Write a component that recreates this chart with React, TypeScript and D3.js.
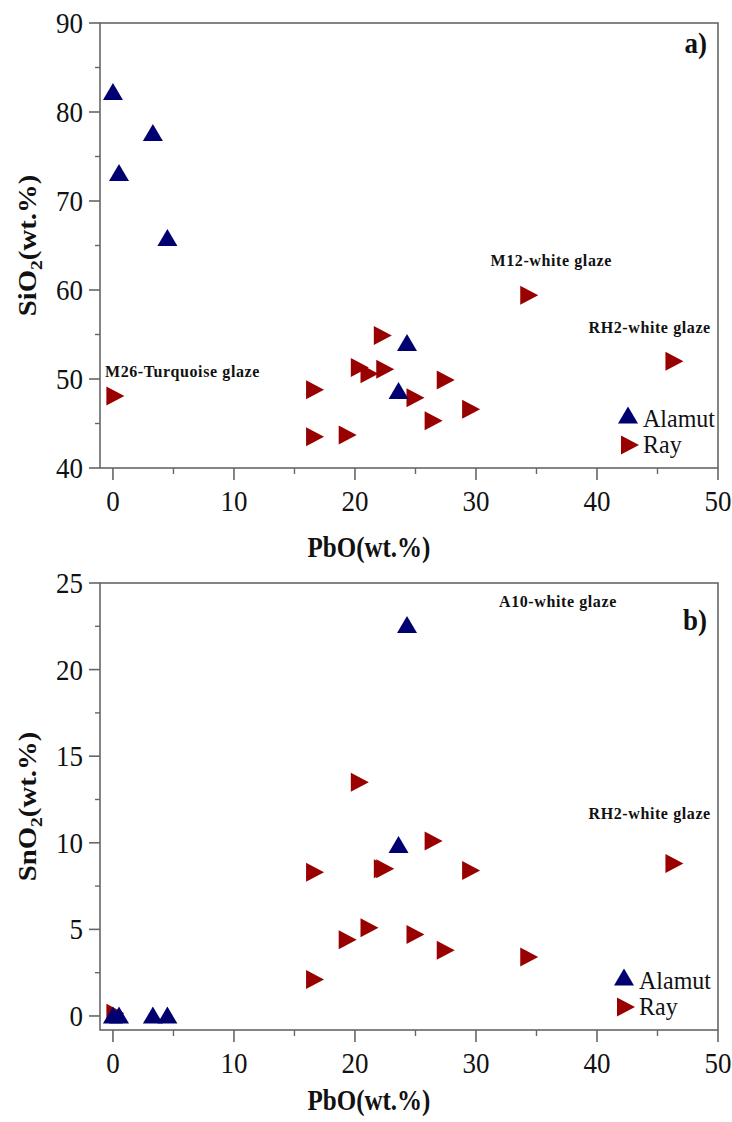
import React from 'react';
import * as d3 from 'd3';

// values (wt.%)
const alamutPbO = [0, 3.3, 0.5, 4.5, 24.3, 23.6];
const alamutSiO2 = [82.3, 77.7, 73.2, 65.9, 54.1, 48.7];
const alamutSnO2 = [0.05, 0.05, 0.05, 0.05, 22.6, 9.9];

const rayPbO = [0.2, 16.7, 16.7, 19.4, 20.4, 21.2, 22.3, 22.5, 25.0, 26.5, 27.5, 29.6, 34.4, 46.4];
const raySiO2 = [48.1, 48.8, 43.5, 43.7, 51.3, 50.6, 54.9, 51.1, 47.9, 45.3, 49.9, 46.6, 59.4, 52.0];
const raySnO2 = [0.15, 8.3, 2.1, 4.4, 13.5, 5.1, 8.5, 8.5, 4.7, 10.1, 3.8, 8.4, 3.4, 8.8];

const xTicks = [0, 10, 20, 30, 40, 50];
const xMinor = [5, 15, 25, 35, 45];
const siTicks = [40, 50, 60, 70, 80, 90];
const siMinor = [45, 55, 65, 75, 85];
const snTicks = [0, 5, 10, 15, 20, 25];
const snMinor = [2.5, 7.5, 12.5, 17.5, 22.5];

// annotation labels, anchored in data units
const notesA = [
    {label: 'M12-white glaze', x: 31.2, y: 62.7},
    {label: 'RH2-white glaze', x: 39.3, y: 55.2},
    {label: 'M26-Turquoise glaze', x: -0.66, y: 50.2},
];
const notesB = [
    {label: 'A10-white glaze', x: 31.9, y: 23.6},
    {label: 'RH2-white glaze', x: 39.3, y: 11.4},
];

const BLUE = '#000070';
const RED = '#990000';
const AXIS = '#666';
const FONT = '"Liberation Serif", "Times New Roman", serif';
const SY = 1.12; // the figure's text is a bit stretched vertically

const width = 732;
const height = 1122;
const left = 100;
const right = 718;

function upTri(w, h) {
    const p = d3.path();
    p.moveTo(0, -h / 2);
    p.lineTo(w / 2, h / 2);
    p.lineTo(-w / 2, h / 2);
    p.closePath();
    return p.toString();
}

function rightTri(w, h) {
    const p = d3.path();
    p.moveTo(w / 2, 0);
    p.lineTo(-w / 2, h / 2);
    p.lineTo(-w / 2, -h / 2);
    p.closePath();
    return p.toString();
}

const upPath = upTri(20, 17);
const rightPath = rightTri(18, 19);

const T = ({x, y, size, bold = false, anchor = 'start', sy = SY, ls = 0, children}) => (
    <text
        transform={`translate(${x},${y}) scale(1,${sy})`}
        fontSize={size}
        fontWeight={bold ? 'bold' : 'normal'}
        textAnchor={anchor}
        letterSpacing={ls}
        fill="#111"
    >
        {children}
    </text>
);

function Panel({top, bottom, yDomain, yTicks, yMinorTicks, alamutY, rayY, notes, tag, tagY, yTitle, xTitleY, legendX, legendY}) {
    const x = d3.scaleLinear().domain([-1.07, 50]).range([left, right]);
    const y = d3.scaleLinear().domain(yDomain).range([bottom, top]);
    const midY = (top + bottom) / 2;

    return <g>
        <rect x={left} y={top} width={right - left} height={bottom - top} fill="none" stroke={AXIS} strokeWidth={1.6}/>

        {yTicks.map(t => <g key={'y' + t}>
            <line x1={left - 11} x2={left} y1={y(t)} y2={y(t)} stroke={AXIS} strokeWidth={1.6}/>
            <T x={left - 17} y={y(t) + 10} size={27} anchor="end">{t}</T>
        </g>)}
        {yMinorTicks.map(t => <line key={'ym' + t} x1={left - 5} x2={left} y1={y(t)} y2={y(t)} stroke={AXIS} strokeWidth={1.4}/>)}

        {xTicks.map(t => <g key={'x' + t}>
            <line x1={x(t)} x2={x(t)} y1={bottom} y2={bottom + 12} stroke={AXIS} strokeWidth={1.6}/>
            <T x={x(t)} y={bottom + 43} size={27} anchor="middle">{t}</T>
        </g>)}
        {xMinor.map(t => <line key={'xm' + t} x1={x(t)} x2={x(t)} y1={bottom} y2={bottom + 6} stroke={AXIS} strokeWidth={1.4}/>)}

        <T x={369} y={xTitleY} size={25} bold anchor="middle" sy={1.15}>PbO(wt.%)</T>
        <text transform={`translate(36,${midY}) scale(1,1.15) rotate(-90)`} fontSize={25} fontWeight="bold" textAnchor="middle" fill="#111">
            {yTitle}<tspan fontSize={17} dy={6}>2</tspan><tspan dy={-6}>(wt.%)</tspan>
        </text>

        <T x={707} y={tagY} size={27} bold anchor="end">{tag}</T>

        {notes.map((n, i) => <T key={i} x={x(n.x)} y={y(n.y)} size={16} bold sy={1} ls={0.6}>{n.label}</T>)}

        {rayPbO.map((v, i) => <path key={'r' + i} d={rightPath} fill={RED} transform={`translate(${x(v)},${y(rayY[i])})`}/>)}
        {alamutPbO.map((v, i) => <path key={'a' + i} d={upPath} fill={BLUE} transform={`translate(${x(v)},${y(alamutY[i])})`}/>)}

        <g transform={`translate(${legendX},${legendY})`}>
            <path d={upPath} fill={BLUE}/>
            <T x={15} y={12} size={24} sy={1.05}>Alamut</T>
            <path d={rightPath} fill={RED} transform="translate(2,30)"/>
            <T x={15} y={38} size={24} sy={1.05}>Ray</T>
        </g>
    </g>;
}

export default function App() {
    return <svg width={width} height={height} style={{position: 'absolute', left: 0, top: 0, background: '#fff'}} fontFamily={FONT}>
        <rect width={width} height={height} fill="#fff"/>
        <Panel top={23} bottom={468} yDomain={[40, 90]} yTicks={siTicks} yMinorTicks={siMinor}
               alamutY={alamutSiO2} rayY={raySiO2} notes={notesA} tag="a)" tagY={53}
               yTitle="SiO" xTitleY={557} legendX={628} legendY={415}/>
        <Panel top={583} bottom={1030} yDomain={[-0.81, 25]} yTicks={snTicks} yMinorTicks={snMinor}
               alamutY={alamutSnO2} rayY={raySnO2} notes={notesB} tag="b)" tagY={630}
               yTitle="SnO" xTitleY={1110} legendX={624} legendY={977}/>
    </svg>;
}
